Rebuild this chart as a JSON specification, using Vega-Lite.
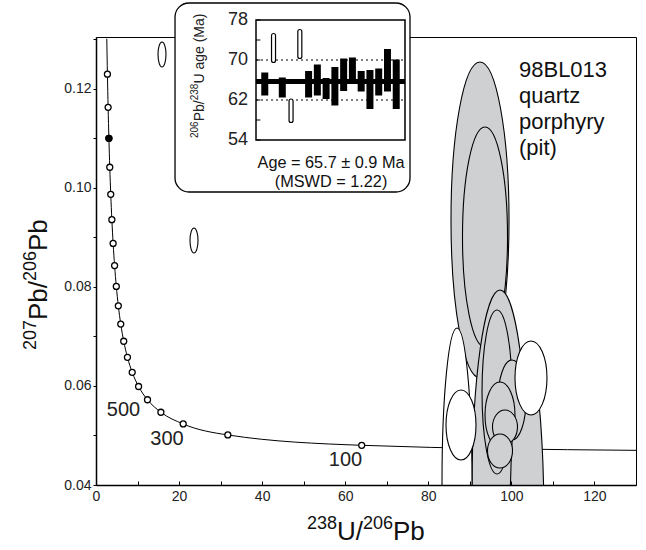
{
  "$schema": "https://vega.github.io/schema/vega-lite/v6.json",
  "width": 540,
  "height": 448,
  "autosize": {"type": "none"},
  "padding": {"left": 96, "top": 37, "right": 10, "bottom": 65},
  "background": "white",
  "config": {
    "view": {"stroke": "black", "strokeWidth": 1},
    "axis": {"grid": false},
    "text": {"font": "Liberation Sans", "color": "#111"}
  },
  "datasets": {
    "anchor": [{}],
    "concordia": [
      {"t": 2100, "x": 2.597, "y": 0.13015},
      {"t": 2000, "x": 2.749, "y": 0.12299},
      {"t": 1900, "x": 2.917, "y": 0.11629},
      {"t": 1800, "x": 3.105, "y": 0.11004},
      {"t": 1700, "x": 3.314, "y": 0.10419},
      {"t": 1600, "x": 3.550, "y": 0.09872},
      {"t": 1500, "x": 3.817, "y": 0.09360},
      {"t": 1400, "x": 4.123, "y": 0.08881},
      {"t": 1300, "x": 4.476, "y": 0.08432},
      {"t": 1200, "x": 4.888, "y": 0.08012},
      {"t": 1100, "x": 5.375, "y": 0.07619},
      {"t": 1000, "x": 5.959, "y": 0.07250},
      {"t": 900, "x": 6.674, "y": 0.06904},
      {"t": 800, "x": 7.568, "y": 0.06580},
      {"t": 700, "x": 8.718, "y": 0.06276},
      {"t": 600, "x": 10.252, "y": 0.05990},
      {"t": 500, "x": 12.399, "y": 0.05722},
      {"t": 400, "x": 15.621, "y": 0.05470},
      {"t": 300, "x": 20.992, "y": 0.05233},
      {"t": 200, "x": 31.735, "y": 0.05011},
      {"t": 100, "x": 63.966, "y": 0.04802},
      {"t": 49.4, "x": 130.0, "y": 0.04700}
    ],
    "ellipses": [
      {"id": "G1", "used": true, "k": 0, "x": 92.44, "y": 0.12545},
      {"id": "G1", "used": true, "k": 1, "x": 99.43, "y": 0.09354},
      {"id": "G1", "used": true, "k": 2, "x": 92.44, "y": 0.06162},
      {"id": "G1", "used": true, "k": 3, "x": 85.46, "y": 0.09354},
      {"id": "G2", "used": true, "k": 0, "x": 93.65, "y": 0.11232},
      {"id": "G2", "used": true, "k": 1, "x": 99.07, "y": 0.09010},
      {"id": "G2", "used": true, "k": 2, "x": 93.65, "y": 0.06788},
      {"id": "G2", "used": true, "k": 3, "x": 88.23, "y": 0.09010},
      {"id": "G3", "used": true, "k": 0, "x": 97.26, "y": 0.07939},
      {"id": "G3", "used": true, "k": 1, "x": 104.00, "y": 0.03899},
      {"id": "G3", "used": true, "k": 2, "x": 97.26, "y": -0.00141},
      {"id": "G3", "used": true, "k": 3, "x": 90.52, "y": 0.03899},
      {"id": "G0", "used": true, "k": 0, "x": 103.76, "y": 0.06667},
      {"id": "G0", "used": true, "k": 1, "x": 107.85, "y": 0.03192},
      {"id": "G0", "used": true, "k": 2, "x": 103.76, "y": -0.00283},
      {"id": "G0", "used": true, "k": 3, "x": 99.67, "y": 0.03192},
      {"id": "G4", "used": true, "k": 0, "x": 96.54, "y": 0.07535},
      {"id": "G4", "used": true, "k": 1, "x": 100.15, "y": 0.05879},
      {"id": "G4", "used": true, "k": 2, "x": 96.54, "y": 0.04222},
      {"id": "G4", "used": true, "k": 3, "x": 92.93, "y": 0.05879},
      {"id": "G5", "used": true, "k": 0, "x": 100.15, "y": 0.06525},
      {"id": "G5", "used": true, "k": 1, "x": 103.52, "y": 0.05717},
      {"id": "G5", "used": true, "k": 2, "x": 100.15, "y": 0.04909},
      {"id": "G5", "used": true, "k": 3, "x": 96.78, "y": 0.05717},
      {"id": "G6", "used": true, "k": 0, "x": 97.26, "y": 0.06081},
      {"id": "G6", "used": true, "k": 1, "x": 100.87, "y": 0.05414},
      {"id": "G6", "used": true, "k": 2, "x": 97.26, "y": 0.04747},
      {"id": "G6", "used": true, "k": 3, "x": 93.65, "y": 0.05414},
      {"id": "G7", "used": true, "k": 0, "x": 98.46, "y": 0.05515},
      {"id": "G7", "used": true, "k": 1, "x": 101.47, "y": 0.05172},
      {"id": "G7", "used": true, "k": 2, "x": 98.46, "y": 0.04828},
      {"id": "G7", "used": true, "k": 3, "x": 95.45, "y": 0.05172},
      {"id": "G8", "used": true, "k": 0, "x": 97.26, "y": 0.05030},
      {"id": "G8", "used": true, "k": 1, "x": 100.27, "y": 0.04687},
      {"id": "G8", "used": true, "k": 2, "x": 97.26, "y": 0.04343},
      {"id": "G8", "used": true, "k": 3, "x": 94.25, "y": 0.04687},
      {"id": "W1", "used": false, "k": 0, "x": 86.91, "y": 0.07172},
      {"id": "W1", "used": false, "k": 1, "x": 90.52, "y": 0.04061},
      {"id": "W1", "used": false, "k": 2, "x": 86.91, "y": 0.00949},
      {"id": "W1", "used": false, "k": 3, "x": 83.30, "y": 0.04061},
      {"id": "W3", "used": false, "k": 0, "x": 87.87, "y": 0.05919},
      {"id": "W3", "used": false, "k": 1, "x": 91.48, "y": 0.05212},
      {"id": "W3", "used": false, "k": 2, "x": 87.87, "y": 0.04505},
      {"id": "W3", "used": false, "k": 3, "x": 84.26, "y": 0.05212},
      {"id": "W2", "used": false, "k": 0, "x": 104.72, "y": 0.06909},
      {"id": "W2", "used": false, "k": 1, "x": 108.57, "y": 0.06162},
      {"id": "W2", "used": false, "k": 2, "x": 104.72, "y": 0.05414},
      {"id": "W2", "used": false, "k": 3, "x": 100.87, "y": 0.06162},
      {"id": "E1", "used": false, "k": 0, "x": 15.89, "y": 0.12949},
      {"id": "E1", "used": false, "k": 1, "x": 16.85, "y": 0.12697},
      {"id": "E1", "used": false, "k": 2, "x": 15.89, "y": 0.12444},
      {"id": "E1", "used": false, "k": 3, "x": 14.93, "y": 0.12697},
      {"id": "E2", "used": false, "k": 0, "x": 23.59, "y": 0.09192},
      {"id": "E2", "used": false, "k": 1, "x": 24.56, "y": 0.08939},
      {"id": "E2", "used": false, "k": 2, "x": 23.59, "y": 0.08687},
      {"id": "E2", "used": false, "k": 3, "x": 22.63, "y": 0.08939}
    ],
    "ageLabels": [
      {"label": "500", "x": 6.62, "y": 0.05515},
      {"label": "300", "x": 17.09, "y": 0.04939},
      {"label": "100", "x": 60.07, "y": 0.04505}
    ],
    "spotAges": [
      {"i": 1, "lo": 62.9, "hi": 67.5, "used": true},
      {"i": 2, "lo": 69.5, "hi": 75.3, "used": false},
      {"i": 3, "lo": 62.5, "hi": 66.5, "used": true},
      {"i": 4, "lo": 57.5, "hi": 62.2, "used": false},
      {"i": 5, "lo": 70.3, "hi": 76.1, "used": false},
      {"i": 6, "lo": 62.5, "hi": 67.8, "used": true},
      {"i": 7, "lo": 62.9, "hi": 69.1, "used": true},
      {"i": 8, "lo": 62.2, "hi": 66.4, "used": true},
      {"i": 9, "lo": 60.9, "hi": 68.6, "used": true},
      {"i": 10, "lo": 63.8, "hi": 70.3, "used": true},
      {"i": 11, "lo": 66.0, "hi": 70.5, "used": true},
      {"i": 12, "lo": 63.7, "hi": 67.8, "used": true},
      {"i": 13, "lo": 60.2, "hi": 68.0, "used": true},
      {"i": 14, "lo": 62.9, "hi": 68.3, "used": true},
      {"i": 15, "lo": 63.7, "hi": 72.2, "used": true},
      {"i": 16, "lo": 60.2, "hi": 70.1, "used": true}
    ],
    "ageTicks": [{"v": 54}, {"v": 58}, {"v": 62}, {"v": 66}, {"v": 70}, {"v": 74}, {"v": 78}],
    "ageLimits": [{"v": 70}, {"v": 62}],
    "meanAge": [{"v": 65.7}]
  },
  "layer": [
    {
      "encoding": {
        "x": {"type": "quantitative", "scale": {"domain": [0, 130], "nice": false, "zero": false}},
        "y": {"type": "quantitative", "scale": {"domain": [0.04, 0.1305], "nice": false, "zero": false}}
      },
      "layer": [
        {
          "data": {"name": "concordia"},
          "mark": {"type": "line", "interpolate": "monotone", "color": "black", "strokeWidth": 1},
          "encoding": {
            "x": {
              "field": "x", "type": "quantitative",
              "axis": {
                "orient": "bottom", "zindex": 1,
                "values": [0, 10, 20, 30, 40, 50, 60, 70, 80, 90, 100, 110, 120],
                "labelExpr": "datum.value % 20 == 0 ? datum.label : ''",
                "tickSize": -4, "tickColor": "black", "tickWidth": 1,
                "labelPadding": 8, "labelFont": "Liberation Sans Narrow, Liberation Sans", "labelFontSize": 14,
                "labelColor": "#222", "labelFlush": false, "labelOverlap": false,
                "domainColor": "black", "domainWidth": 1.5,
                "title": null
              }
            },
            "y": {
              "field": "y", "type": "quantitative",
              "axis": {
                "orient": "left", "zindex": 1,
                "values": [0.04, 0.05, 0.06, 0.07, 0.08, 0.09, 0.1, 0.11, 0.12, 0.13],
                "format": ".2f",
                "labelExpr": "round(datum.value * 100) % 2 == 0 ? datum.label : ''",
                "tickSize": 3, "tickColor": "black", "tickWidth": 1,
                "labelPadding": 2, "labelFont": "Liberation Sans", "labelFontSize": 14,
                "labelColor": "#222", "labelFlush": false, "labelOverlap": false,
                "domainColor": "black", "domainWidth": 1.5,
                "title": null
              }
            }
          }
        },
        {
          "data": {"name": "ellipses"},
          "transform": [{"filter": "datum.used"}],
          "mark": {"type": "line", "interpolate": "cardinal-closed", "tension": -0.657,
                   "fill": "#cfd0d2", "stroke": "black", "strokeWidth": 1.1, "clip": true},
          "encoding": {
            "x": {"field": "x", "type": "quantitative"},
            "y": {"field": "y", "type": "quantitative"},
            "detail": {"field": "id"},
            "order": {"field": "k"}
          }
        },
        {
          "data": {"name": "ellipses"},
          "transform": [{"filter": "!datum.used"}],
          "mark": {"type": "line", "interpolate": "cardinal-closed", "tension": -0.657,
                   "fill": "white", "stroke": "black", "strokeWidth": 1.1, "clip": true},
          "encoding": {
            "x": {"field": "x", "type": "quantitative"},
            "y": {"field": "y", "type": "quantitative"},
            "detail": {"field": "id"},
            "order": {"field": "k"}
          }
        },
        {
          "data": {"name": "concordia"},
          "transform": [{"filter": "datum.t % 100 == 0 && datum.t <= 2000"}],
          "mark": {"type": "point", "shape": "circle", "filled": true, "fill": "white",
                   "stroke": "black", "strokeWidth": 1.3, "size": 36, "opacity": 1},
          "encoding": {
            "x": {"field": "x", "type": "quantitative"},
            "y": {"field": "y", "type": "quantitative"}
          }
        },
        {
          "data": {"name": "concordia"},
          "transform": [{"filter": "datum.t == 1800"}],
          "mark": {"type": "point", "shape": "circle", "filled": true, "fill": "black",
                   "stroke": "black", "strokeWidth": 1.3, "size": 36, "opacity": 1},
          "encoding": {
            "x": {"field": "x", "type": "quantitative"},
            "y": {"field": "y", "type": "quantitative"}
          }
        },
        {
          "data": {"name": "ageLabels"},
          "mark": {"type": "text", "fontSize": 20, "color": "#222", "align": "center", "baseline": "middle"},
          "encoding": {
            "x": {"field": "x", "type": "quantitative"},
            "y": {"field": "y", "type": "quantitative"},
            "text": {"field": "label"}
          }
        },
        {
          "data": {"name": "anchor"},
          "mark": {"type": "text", "text": ["98BL013", "quartz", "porphyry", "(pit)"],
                   "fontSize": 22, "lineHeight": 26, "align": "left", "baseline": "alphabetic"},
          "encoding": {
            "x": {"datum": 101.83, "type": "quantitative"},
            "y": {"datum": 0.12242, "type": "quantitative"}
          }
        },
        {
          "data": {"name": "anchor"},
          "encoding": {
            "x": {"datum": 50.8, "type": "quantitative"},
            "y": {"datum": 0.02889, "type": "quantitative"}
          },
          "layer": [
            {"mark": {"type": "text", "text": "238", "fontSize": 18, "align": "left", "baseline": "alphabetic", "dx": 0, "dy": -11}},
            {"mark": {"type": "text", "text": "U/", "fontSize": 26, "align": "left", "baseline": "alphabetic", "dx": 30}},
            {"mark": {"type": "text", "text": "206", "fontSize": 18, "align": "left", "baseline": "alphabetic", "dx": 56, "dy": -11}},
            {"mark": {"type": "text", "text": "Pb", "fontSize": 26, "align": "left", "baseline": "alphabetic", "dx": 86}}
          ]
        },
        {
          "data": {"name": "anchor"},
          "encoding": {
            "x": {"datum": -11.8, "type": "quantitative"},
            "y": {"datum": 0.06727, "type": "quantitative"}
          },
          "layer": [
            {"mark": {"type": "text", "text": "207", "fontSize": 18, "angle": 270, "align": "left", "baseline": "alphabetic", "dx": 0, "dy": -11}},
            {"mark": {"type": "text", "text": "Pb/", "fontSize": 26, "angle": 270, "align": "left", "baseline": "alphabetic", "dx": 30}},
            {"mark": {"type": "text", "text": "206", "fontSize": 18, "angle": 270, "align": "left", "baseline": "alphabetic", "dx": 69, "dy": -11}},
            {"mark": {"type": "text", "text": "Pb", "fontSize": 26, "angle": 270, "align": "left", "baseline": "alphabetic", "dx": 99}}
          ]
        }
      ]
    },
    {
      "encoding": {
        "x": {"type": "quantitative", "scale": {"domain": [0, 17], "range": [160, 309], "padding": 0, "nice": false, "zero": false}, "axis": null},
        "y": {"type": "quantitative", "scale": {"domain": [54, 78], "range": [103, -17], "padding": 0, "nice": false, "zero": false}, "axis": null}
      },
      "layer": [
        {
          "data": {"name": "anchor"},
          "mark": {"type": "rect", "fill": "white", "stroke": "black", "strokeWidth": 1.3, "cornerRadius": 14},
          "encoding": {
            "x": {"datum": -9.24, "type": "quantitative"},
            "x2": {"datum": 17.57},
            "y": {"datum": 81.4, "type": "quantitative"},
            "y2": {"datum": 43.6}
          }
        },
        {
          "data": {"name": "ageLimits"},
          "mark": {"type": "rule", "color": "black", "strokeWidth": 1, "strokeDash": [2, 3]},
          "encoding": {
            "x": {"datum": 0, "type": "quantitative"},
            "x2": {"datum": 17},
            "y": {"field": "v", "type": "quantitative"}
          }
        },
        {
          "data": {"name": "spotAges"},
          "transform": [{"filter": "datum.used"}],
          "mark": {"type": "bar", "size": 7, "color": "black"},
          "encoding": {
            "x": {"field": "i", "type": "quantitative"},
            "y": {"field": "lo", "type": "quantitative"},
            "y2": {"field": "hi"}
          }
        },
        {
          "data": {"name": "spotAges"},
          "transform": [{"filter": "!datum.used"}],
          "mark": {"type": "bar", "size": 4, "fill": "white", "stroke": "black", "strokeWidth": 1.2, "cornerRadius": 2.5},
          "encoding": {
            "x": {"field": "i", "type": "quantitative"},
            "y": {"field": "lo", "type": "quantitative"},
            "y2": {"field": "hi"}
          }
        },
        {
          "data": {"name": "meanAge"},
          "mark": {"type": "rule", "color": "black", "strokeWidth": 5},
          "encoding": {
            "x": {"datum": 0, "type": "quantitative"},
            "x2": {"datum": 17},
            "y": {"field": "v", "type": "quantitative"}
          }
        },
        {
          "data": {"name": "anchor"},
          "mark": {"type": "rect", "fillOpacity": 0, "fill": "white", "stroke": "black", "strokeWidth": 1.5},
          "encoding": {
            "x": {"datum": 0, "type": "quantitative"},
            "x2": {"datum": 17},
            "y": {"datum": 54, "type": "quantitative"},
            "y2": {"datum": 78}
          }
        },
        {
          "data": {"name": "ageTicks"},
          "mark": {"type": "rule", "color": "black", "strokeWidth": 1},
          "encoding": {
            "x": {"datum": 0, "type": "quantitative"},
            "x2": {"datum": 0.5},
            "y": {"field": "v", "type": "quantitative"}
          }
        },
        {
          "data": {"name": "ageTicks"},
          "transform": [{"filter": "datum.v % 8 == 6"}],
          "mark": {"type": "text", "fontSize": 18, "color": "#222", "align": "right", "baseline": "middle", "dx": -8},
          "encoding": {
            "x": {"datum": 0, "type": "quantitative"},
            "y": {"field": "v", "type": "quantitative"},
            "text": {"field": "v", "type": "quantitative"}
          }
        },
        {
          "data": {"name": "anchor"},
          "mark": {"type": "text", "text": "Age = 65.7 ± 0.9 Ma", "fontSize": 16.3, "align": "center", "baseline": "alphabetic"},
          "encoding": {
            "x": {"datum": 8.56, "type": "quantitative"},
            "y": {"datum": 48.4, "type": "quantitative"}
          }
        },
        {
          "data": {"name": "anchor"},
          "mark": {"type": "text", "text": "(MSWD = 1.22)", "fontSize": 16.3, "align": "center", "baseline": "alphabetic"},
          "encoding": {
            "x": {"datum": 8.56, "type": "quantitative"},
            "y": {"datum": 44.6, "type": "quantitative"}
          }
        },
        {
          "data": {"name": "anchor"},
          "encoding": {
            "x": {"datum": -5.93, "type": "quantitative"},
            "y": {"datum": 54.4, "type": "quantitative"}
          },
          "layer": [
            {"mark": {"type": "text", "text": "206", "fontSize": 10, "color": "#222", "angle": 270, "align": "left", "baseline": "alphabetic", "dx": 0, "dy": -6}},
            {"mark": {"type": "text", "text": "Pb/", "fontSize": 14, "color": "#222", "angle": 270, "align": "left", "baseline": "alphabetic", "dx": 16.7}},
            {"mark": {"type": "text", "text": "238", "fontSize": 10, "color": "#222", "angle": 270, "align": "left", "baseline": "alphabetic", "dx": 37.7, "dy": -6}},
            {"mark": {"type": "text", "text": "U age (Ma)", "fontSize": 14, "color": "#222", "angle": 270, "align": "left", "baseline": "alphabetic", "dx": 54.4}}
          ]
        }
      ]
    }
  ],
  "resolve": {
    "scale": {"x": "independent", "y": "independent"},
    "axis": {"x": "independent", "y": "independent"}
  }
}
